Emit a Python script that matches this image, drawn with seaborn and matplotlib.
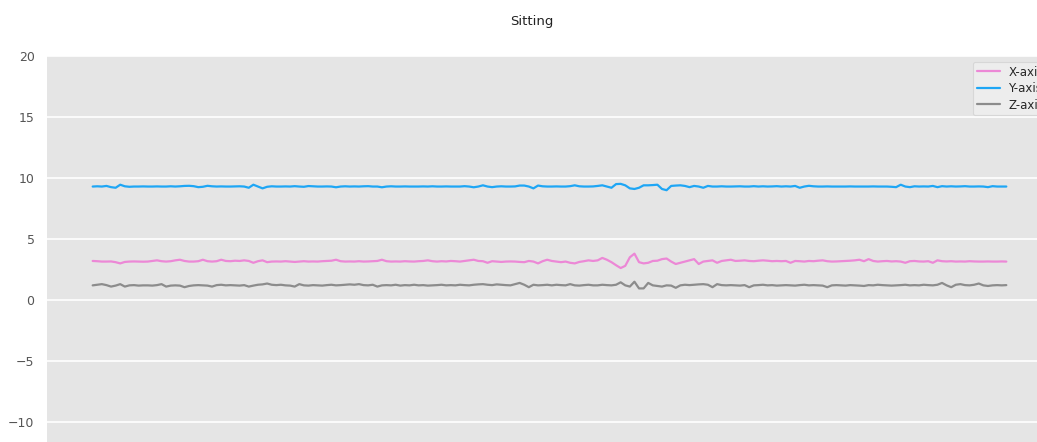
import numpy as np
import pandas as pd
import seaborn as sns
import matplotlib
matplotlib.use('Agg')
import matplotlib.pyplot as plt

# accelerometer readings for the "Sitting" activity
x_axis = [
    3.20, 3.18, 3.15, 3.15, 3.16, 3.10, 3.00, 3.12, 3.15, 3.16, 3.15, 3.14, 3.15, 3.20, 3.25, 3.18, 3.15, 3.18, 3.25, 3.30,
    3.20, 3.15, 3.15, 3.18, 3.30, 3.18, 3.15, 3.18, 3.30, 3.20, 3.18, 3.22, 3.20, 3.25, 3.20, 3.05, 3.18, 3.25, 3.10, 3.15,
    3.16, 3.15, 3.18, 3.15, 3.12, 3.15, 3.18, 3.15, 3.16, 3.15, 3.18, 3.20, 3.22, 3.30, 3.18, 3.15, 3.16, 3.15, 3.18, 3.15,
    3.16, 3.18, 3.20, 3.30, 3.18, 3.15, 3.16, 3.15, 3.18, 3.16, 3.15, 3.18, 3.20, 3.25, 3.18, 3.15, 3.18, 3.16, 3.20, 3.18,
    3.15, 3.20, 3.25, 3.30, 3.20, 3.18, 3.05, 3.18, 3.15, 3.12, 3.15, 3.16, 3.15, 3.12, 3.10, 3.20, 3.15, 3.00, 3.18, 3.30,
    3.20, 3.15, 3.10, 3.15, 3.05, 3.00, 3.12, 3.18, 3.25, 3.20, 3.25, 3.45, 3.30, 3.10, 2.85, 2.62, 2.80, 3.50, 3.80, 3.10,
    3.00, 3.05, 3.20, 3.22, 3.35, 3.40, 3.15, 2.95, 3.05, 3.15, 3.25, 3.35, 2.95, 3.15, 3.20, 3.25, 3.05, 3.20, 3.25, 3.30,
    3.20, 3.22, 3.25, 3.20, 3.18, 3.22, 3.25, 3.22, 3.18, 3.20, 3.18, 3.20, 3.05, 3.20, 3.18, 3.15, 3.20, 3.18, 3.22, 3.25,
    3.18, 3.15, 3.16, 3.18, 3.20, 3.22, 3.25, 3.30, 3.18, 3.35, 3.20, 3.15, 3.18, 3.20, 3.16, 3.18, 3.15, 3.05, 3.18, 3.20,
    3.16, 3.15, 3.18, 3.05, 3.25, 3.18, 3.16, 3.18, 3.15, 3.16, 3.15, 3.18, 3.16, 3.15, 3.15, 3.16, 3.15, 3.15, 3.16, 3.15,
]
y_axis = [
    9.30, 9.32, 9.30, 9.35, 9.25, 9.20, 9.45, 9.32, 9.28, 9.30, 9.30, 9.31, 9.30, 9.30, 9.31, 9.30, 9.30, 9.32, 9.30, 9.32,
    9.35, 9.36, 9.33, 9.25, 9.28, 9.36, 9.32, 9.30, 9.31, 9.30, 9.30, 9.31, 9.32, 9.30, 9.20, 9.45, 9.30, 9.15, 9.28, 9.32,
    9.30, 9.30, 9.31, 9.30, 9.33, 9.30, 9.28, 9.34, 9.32, 9.30, 9.30, 9.31, 9.30, 9.24, 9.30, 9.32, 9.30, 9.31, 9.30, 9.32,
    9.33, 9.30, 9.30, 9.24, 9.30, 9.32, 9.30, 9.30, 9.31, 9.30, 9.30, 9.30, 9.31, 9.30, 9.32, 9.30, 9.30, 9.31, 9.30, 9.30,
    9.30, 9.33, 9.30, 9.24, 9.30, 9.40, 9.30, 9.25, 9.30, 9.32, 9.30, 9.30, 9.31, 9.38, 9.38, 9.30, 9.15, 9.38, 9.32, 9.30,
    9.30, 9.31, 9.30, 9.30, 9.33, 9.40, 9.32, 9.30, 9.30, 9.31, 9.35, 9.40, 9.30, 9.20, 9.50, 9.52, 9.40, 9.15, 9.10, 9.20,
    9.40, 9.40, 9.42, 9.45, 9.10, 9.00, 9.35, 9.38, 9.40, 9.35, 9.25, 9.35, 9.30, 9.20, 9.35, 9.30, 9.30, 9.32, 9.30, 9.30,
    9.31, 9.32, 9.30, 9.30, 9.33, 9.30, 9.32, 9.30, 9.31, 9.33, 9.30, 9.32, 9.30, 9.35, 9.20, 9.30, 9.36, 9.32, 9.30, 9.30,
    9.31, 9.30, 9.30, 9.30, 9.30, 9.31, 9.30, 9.30, 9.30, 9.30, 9.31, 9.30, 9.30, 9.30, 9.28, 9.25, 9.45, 9.30, 9.25, 9.32,
    9.30, 9.31, 9.30, 9.35, 9.25, 9.33, 9.30, 9.32, 9.30, 9.31, 9.33, 9.30, 9.30, 9.31, 9.30, 9.25, 9.33, 9.30, 9.30, 9.30,
]
z_axis = [
    1.20, 1.25, 1.30, 1.22, 1.10, 1.18, 1.30, 1.10, 1.20, 1.22, 1.18, 1.20, 1.20, 1.18, 1.22, 1.30, 1.10, 1.18, 1.20, 1.18,
    1.05, 1.15, 1.20, 1.22, 1.20, 1.18, 1.10, 1.22, 1.25, 1.20, 1.22, 1.20, 1.18, 1.22, 1.10, 1.18, 1.25, 1.28, 1.35, 1.25,
    1.22, 1.25, 1.20, 1.18, 1.10, 1.30, 1.20, 1.18, 1.22, 1.20, 1.18, 1.22, 1.25, 1.20, 1.22, 1.25, 1.28, 1.25, 1.30, 1.22,
    1.20, 1.25, 1.10, 1.20, 1.22, 1.20, 1.25, 1.18, 1.22, 1.20, 1.25, 1.20, 1.22, 1.18, 1.20, 1.22, 1.25, 1.20, 1.22, 1.20,
    1.25, 1.22, 1.20, 1.25, 1.28, 1.30, 1.25, 1.22, 1.28, 1.25, 1.22, 1.20, 1.30, 1.40, 1.25, 1.05, 1.25, 1.20, 1.22, 1.25,
    1.20, 1.25, 1.22, 1.20, 1.30, 1.20, 1.18, 1.22, 1.25, 1.20, 1.20, 1.25, 1.22, 1.20, 1.25, 1.45, 1.20, 1.10, 1.50, 0.95,
    0.95, 1.40, 1.20, 1.15, 1.10, 1.20, 1.18, 1.00, 1.20, 1.25, 1.22, 1.25, 1.28, 1.30, 1.25, 1.05, 1.30, 1.22, 1.20, 1.22,
    1.20, 1.18, 1.22, 1.05, 1.20, 1.22, 1.25, 1.20, 1.22, 1.18, 1.20, 1.22, 1.20, 1.18, 1.22, 1.25, 1.20, 1.22, 1.20, 1.18,
    1.05, 1.20, 1.22, 1.20, 1.18, 1.22, 1.20, 1.18, 1.15, 1.22, 1.20, 1.25, 1.22, 1.20, 1.18, 1.20, 1.22, 1.25, 1.20, 1.22,
    1.20, 1.25, 1.22, 1.20, 1.25, 1.40, 1.20, 1.05, 1.25, 1.30, 1.22, 1.20, 1.25, 1.35, 1.20, 1.15, 1.20, 1.22, 1.20, 1.22,
]
series_names = ['X-axis', 'Y-axis', 'Z-axis']
series_colors = ['#ec88d6', '#1ea6f5', '#8c8c8c']
y_ticks = [-20, -15, -10, -5, 0, 5, 10, 15, 20]

# long-form frame for seaborn
df = pd.DataFrame({
    'sample': np.tile(np.arange(len(x_axis)), 3),
    'value': x_axis + y_axis + z_axis,
    'axis': np.repeat(series_names, len(x_axis)),
})

sns.set_theme(style='darkgrid', rc={
    'axes.facecolor': '#e5e5e5',
    'grid.color': 'white',
    'grid.linewidth': 1.2,
    'xtick.color': '#555555',
    'ytick.color': '#555555',
})
plt.rcParams['font.family'] = ['DejaVu Sans']

fig = plt.figure(figsize=(10.37, 4.42), dpi=100)
# the reference is cropped: the plot area runs past the right and bottom edges
ax = fig.add_axes([47 / 1037, -102 / 442, 1005 / 1037, 488 / 442])

sns.lineplot(data=df, x='sample', y='value', hue='axis', palette=series_colors,
             linewidth=1.6, ax=ax)

ax.set_ylim(-20, 20)
ax.set_yticks(y_ticks)
ax.set_yticklabels(['\u2212' + str(-t) if t < 0 else str(t) for t in y_ticks])
ax.grid(False, axis='x')
ax.set_xlabel('')
ax.set_ylabel('')
ax.set_xticks([])
ax.tick_params(axis='y', length=0, pad=9, labelsize=9)
for s in ax.spines.values():
    s.set_visible(False)

leg = ax.legend(loc='upper left', bbox_to_anchor=(973 / 1037, 1 - 62 / 442),
                bbox_transform=fig.transFigure, borderaxespad=0,
                fontsize=8.5, frameon=True, facecolor='#eeeeee',
                edgecolor='#d5d5d5', framealpha=0.9, labelspacing=0.3,
                borderpad=0.3, handletextpad=0.7, handlelength=2.0)
leg.get_frame().set_linewidth(0.8)

fig.text(532 / 1037, 1 - 21 / 442, 'Sitting', ha='center', va='center',
         fontsize=9.5, color='#222222')

fig.savefig('out.png', dpi=100)
